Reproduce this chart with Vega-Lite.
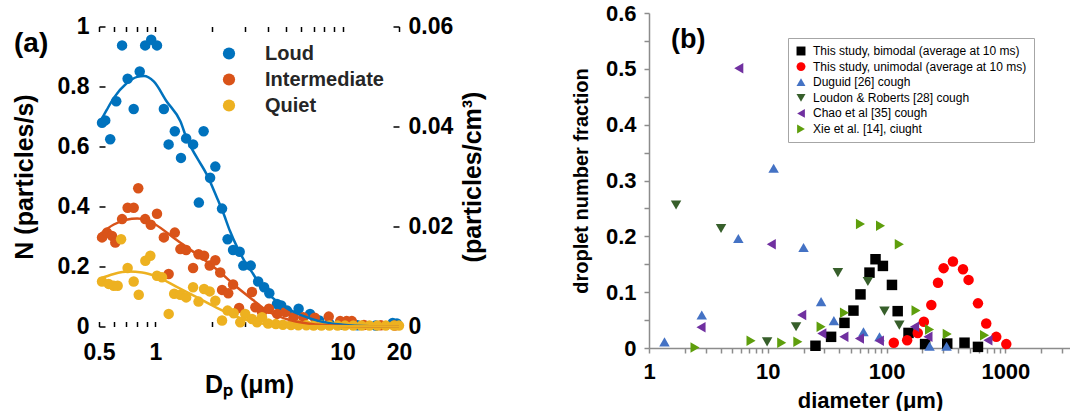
{
  "$schema": "https://vega.github.io/schema/vega-lite/v6.json",
  "background": "white",
  "padding": {"left": 12, "top": 2, "right": 0, "bottom": 0},
  "spacing": 85,
  "center": true,
  "datasets": {
    "a_points": [
      {"D":0.519,"N":0.679,"level":"Loud"},{"D":0.540,"N":0.687,"level":"Loud"},{"D":0.574,"N":0.624,"level":"Loud"},{"D":0.618,"N":0.751,"level":"Loud"},{"D":0.664,"N":0.937,"level":"Loud"},{"D":0.711,"N":0.826,"level":"Loud"},{"D":0.766,"N":0.725,"level":"Loud"},{"D":0.825,"N":0.850,"level":"Loud"},{"D":0.882,"N":0.937,"level":"Loud"},{"D":0.95,"N":0.956,"level":"Loud"},{"D":1.02,"N":0.937,"level":"Loud"},{"D":1.11,"N":0.725,"level":"Loud"},{"D":1.177,"N":0.607,"level":"Loud"},{"D":1.27,"N":0.651,"level":"Loud"},{"D":1.37,"N":0.562,"level":"Loud"},{"D":1.46,"N":0.627,"level":"Loud"},{"D":1.59,"N":0.607,"level":"Loud"},{"D":1.707,"N":0.413,"level":"Loud"},{"D":1.81,"N":0.651,"level":"Loud"},{"D":1.96,"N":0.496,"level":"Loud"},{"D":2.09,"N":0.533,"level":"Loud"},{"D":2.27,"N":0.393,"level":"Loud"},{"D":2.43,"N":0.291,"level":"Loud"},{"D":2.60,"N":0.255,"level":"Loud"},{"D":2.82,"N":0.249,"level":"Loud"},{"D":2.95,"N":0.203,"level":"Loud"},{"D":3.23,"N":0.203,"level":"Loud"},{"D":3.54,"N":0.150,"level":"Loud"},{"D":3.81,"N":0.131,"level":"Loud"},{"D":4.06,"N":0.111,"level":"Loud"},{"D":4.46,"N":0.075,"level":"Loud"},{"D":4.70,"N":0.070,"level":"Loud"},{"D":5.05,"N":0.053,"level":"Loud"},{"D":5.82,"N":0.059,"level":"Loud"},{"D":6.7,"N":0.042,"level":"Loud"},{"D":7.5,"N":0.02,"level":"Loud"},{"D":8.5,"N":0.01,"level":"Loud"},{"D":10,"N":0.006,"level":"Loud"},{"D":12,"N":0.004,"level":"Loud"},{"D":15,"N":0.003,"level":"Loud"},{"D":18.5,"N":0.012,"level":"Loud"},{"D":19.5,"N":0.01,"level":"Loud"},
      {"D":0.519,"N":0.297,"level":"Intermediate"},{"D":0.552,"N":0.313,"level":"Intermediate"},{"D":0.587,"N":0.302,"level":"Intermediate"},{"D":0.611,"N":0.28,"level":"Intermediate"},{"D":0.664,"N":0.358,"level":"Intermediate"},{"D":0.711,"N":0.396,"level":"Intermediate"},{"D":0.766,"N":0.396,"level":"Intermediate"},{"D":0.81,"N":0.461,"level":"Intermediate"},{"D":0.882,"N":0.358,"level":"Intermediate"},{"D":0.945,"N":0.339,"level":"Intermediate"},{"D":1.02,"N":0.376,"level":"Intermediate"},{"D":1.11,"N":0.297,"level":"Intermediate"},{"D":1.177,"N":0.175,"level":"Intermediate"},{"D":1.27,"N":0.313,"level":"Intermediate"},{"D":1.36,"N":0.258,"level":"Intermediate"},{"D":1.46,"N":0.255,"level":"Intermediate"},{"D":1.59,"N":0.195,"level":"Intermediate"},{"D":1.70,"N":0.241,"level":"Intermediate"},{"D":1.82,"N":0.236,"level":"Intermediate"},{"D":1.95,"N":0.203,"level":"Intermediate"},{"D":2.09,"N":0.221,"level":"Intermediate"},{"D":2.22,"N":0.18,"level":"Intermediate"},{"D":2.27,"N":0.122,"level":"Intermediate"},{"D":2.45,"N":0.111,"level":"Intermediate"},{"D":2.60,"N":0.140,"level":"Intermediate"},{"D":2.8,"N":0.062,"level":"Intermediate"},{"D":3.28,"N":0.115,"level":"Intermediate"},{"D":3.42,"N":0.064,"level":"Intermediate"},{"D":3.71,"N":0.048,"level":"Intermediate"},{"D":4.04,"N":0.059,"level":"Intermediate"},{"D":4.47,"N":0.042,"level":"Intermediate"},{"D":4.94,"N":0.048,"level":"Intermediate"},{"D":5.47,"N":0.031,"level":"Intermediate"},{"D":6.17,"N":0.031,"level":"Intermediate"},{"D":7.1,"N":0.029,"level":"Intermediate"},{"D":8.43,"N":0.033,"level":"Intermediate"},{"D":9.7,"N":0.018,"level":"Intermediate"},{"D":10.5,"N":0.018,"level":"Intermediate"},{"D":11.2,"N":0.018,"level":"Intermediate"},{"D":13,"N":0.005,"level":"Intermediate"},{"D":16,"N":0.004,"level":"Intermediate"},{"D":19,"N":0.003,"level":"Intermediate"},
      {"D":0.519,"N":0.150,"level":"Quiet"},{"D":0.563,"N":0.142,"level":"Quiet"},{"D":0.599,"N":0.136,"level":"Quiet"},{"D":0.629,"N":0.136,"level":"Quiet"},{"D":0.656,"N":0.291,"level":"Quiet"},{"D":0.711,"N":0.195,"level":"Quiet"},{"D":0.766,"N":0.150,"level":"Quiet"},{"D":0.815,"N":0.106,"level":"Quiet"},{"D":0.884,"N":0.219,"level":"Quiet"},{"D":0.94,"N":0.236,"level":"Quiet"},{"D":1.02,"N":0.169,"level":"Quiet"},{"D":1.085,"N":0.164,"level":"Quiet"},{"D":1.178,"N":0.042,"level":"Quiet"},{"D":1.26,"N":0.109,"level":"Quiet"},{"D":1.36,"N":0.106,"level":"Quiet"},{"D":1.46,"N":0.097,"level":"Quiet"},{"D":1.59,"N":0.131,"level":"Quiet"},{"D":1.70,"N":0.083,"level":"Quiet"},{"D":1.82,"N":0.125,"level":"Quiet"},{"D":1.95,"N":0.117,"level":"Quiet"},{"D":2.09,"N":0.086,"level":"Quiet"},{"D":2.27,"N":0.02,"level":"Quiet"},{"D":2.43,"N":0.053,"level":"Quiet"},{"D":2.62,"N":0.044,"level":"Quiet"},{"D":2.84,"N":0.014,"level":"Quiet"},{"D":3.02,"N":0.042,"level":"Quiet"},{"D":3.28,"N":0.025,"level":"Quiet"},{"D":3.49,"N":0.014,"level":"Quiet"},{"D":3.71,"N":0.031,"level":"Quiet"},{"D":4.0,"N":0.01,"level":"Quiet"},{"D":4.4,"N":0.008,"level":"Quiet"},{"D":4.8,"N":0.006,"level":"Quiet"},{"D":5.3,"N":0.005,"level":"Quiet"},{"D":5.8,"N":0.004,"level":"Quiet"},{"D":6.4,"N":0.004,"level":"Quiet"},{"D":7.0,"N":0.003,"level":"Quiet"},{"D":7.7,"N":0.003,"level":"Quiet"},{"D":8.5,"N":0.003,"level":"Quiet"},{"D":9.4,"N":0.003,"level":"Quiet"},{"D":10.3,"N":0.003,"level":"Quiet"},{"D":11.4,"N":0.003,"level":"Quiet"},{"D":12.6,"N":0.003,"level":"Quiet"},{"D":13.9,"N":0.003,"level":"Quiet"},{"D":15.3,"N":0.003,"level":"Quiet"},{"D":17,"N":0.003,"level":"Quiet"},{"D":18.8,"N":0.003,"level":"Quiet"},{"D":20,"N":0.003,"level":"Quiet"}
    ],
    "a_curves": [
      {"D":0.5,"N":0.675,"level":"Loud"},{"D":0.55,"N":0.722,"level":"Loud"},{"D":0.6,"N":0.762,"level":"Loud"},{"D":0.7,"N":0.81,"level":"Loud"},{"D":0.8,"N":0.832,"level":"Loud"},{"D":0.87,"N":0.835,"level":"Loud"},{"D":0.98,"N":0.817,"level":"Loud"},{"D":1.15,"N":0.75,"level":"Loud"},{"D":1.36,"N":0.684,"level":"Loud"},{"D":1.475,"N":0.624,"level":"Loud"},{"D":1.67,"N":0.562,"level":"Loud"},{"D":1.88,"N":0.507,"level":"Loud"},{"D":2.13,"N":0.43,"level":"Loud"},{"D":2.32,"N":0.374,"level":"Loud"},{"D":2.5,"N":0.319,"level":"Loud"},{"D":2.74,"N":0.263,"level":"Loud"},{"D":3.02,"N":0.214,"level":"Loud"},{"D":3.33,"N":0.175,"level":"Loud"},{"D":3.6,"N":0.142,"level":"Loud"},{"D":4.2,"N":0.097,"level":"Loud"},{"D":5.0,"N":0.062,"level":"Loud"},{"D":6.0,"N":0.038,"level":"Loud"},{"D":7.5,"N":0.018,"level":"Loud"},{"D":10,"N":0.006,"level":"Loud"},{"D":14,"N":0.001,"level":"Loud"},{"D":20,"N":0.0,"level":"Loud"},
      {"D":0.5,"N":0.305,"level":"Intermediate"},{"D":0.6,"N":0.34,"level":"Intermediate"},{"D":0.7,"N":0.356,"level":"Intermediate"},{"D":0.8,"N":0.36,"level":"Intermediate"},{"D":0.9,"N":0.355,"level":"Intermediate"},{"D":1.0,"N":0.34,"level":"Intermediate"},{"D":1.3,"N":0.288,"level":"Intermediate"},{"D":1.67,"N":0.24,"level":"Intermediate"},{"D":2.13,"N":0.19,"level":"Intermediate"},{"D":2.74,"N":0.13,"level":"Intermediate"},{"D":3.33,"N":0.088,"level":"Intermediate"},{"D":4.0,"N":0.05,"level":"Intermediate"},{"D":5.0,"N":0.025,"level":"Intermediate"},{"D":6.5,"N":0.01,"level":"Intermediate"},{"D":10,"N":0.002,"level":"Intermediate"},{"D":20,"N":0.0,"level":"Intermediate"},
      {"D":0.5,"N":0.158,"level":"Quiet"},{"D":0.6,"N":0.175,"level":"Quiet"},{"D":0.72,"N":0.183,"level":"Quiet"},{"D":0.85,"N":0.18,"level":"Quiet"},{"D":1.0,"N":0.168,"level":"Quiet"},{"D":1.3,"N":0.132,"level":"Quiet"},{"D":1.67,"N":0.097,"level":"Quiet"},{"D":2.13,"N":0.062,"level":"Quiet"},{"D":2.74,"N":0.032,"level":"Quiet"},{"D":3.3,"N":0.016,"level":"Quiet"},{"D":4.0,"N":0.007,"level":"Quiet"},{"D":5.0,"N":0.002,"level":"Quiet"},{"D":20,"N":0.0,"level":"Quiet"}
    ],
    "b_points": [
      {"diameter":25.2,"fraction":0.004,"series":"This study, bimodal (average at 10 ms)"},{"diameter":34.1,"fraction":0.020,"series":"This study, bimodal (average at 10 ms)"},{"diameter":44.2,"fraction":0.045,"series":"This study, bimodal (average at 10 ms)"},{"diameter":52.6,"fraction":0.067,"series":"This study, bimodal (average at 10 ms)"},{"diameter":60.3,"fraction":0.096,"series":"This study, bimodal (average at 10 ms)"},{"diameter":71.8,"fraction":0.135,"series":"This study, bimodal (average at 10 ms)"},{"diameter":80.7,"fraction":0.159,"series":"This study, bimodal (average at 10 ms)"},{"diameter":93.1,"fraction":0.147,"series":"This study, bimodal (average at 10 ms)"},{"diameter":111,"fraction":0.113,"series":"This study, bimodal (average at 10 ms)"},{"diameter":124,"fraction":0.066,"series":"This study, bimodal (average at 10 ms)"},{"diameter":153,"fraction":0.027,"series":"This study, bimodal (average at 10 ms)"},{"diameter":211,"fraction":0.007,"series":"This study, bimodal (average at 10 ms)"},{"diameter":324,"fraction":0.008,"series":"This study, bimodal (average at 10 ms)"},{"diameter":453,"fraction":0.0095,"series":"This study, bimodal (average at 10 ms)"},{"diameter":588,"fraction":0.002,"series":"This study, bimodal (average at 10 ms)"},
      {"diameter":115,"fraction":0.0095,"series":"This study, unimodal (average at 10 ms)"},{"diameter":149,"fraction":0.014,"series":"This study, unimodal (average at 10 ms)"},{"diameter":183,"fraction":0.027,"series":"This study, unimodal (average at 10 ms)"},{"diameter":206,"fraction":0.047,"series":"This study, unimodal (average at 10 ms)"},{"diameter":238,"fraction":0.077,"series":"This study, unimodal (average at 10 ms)"},{"diameter":271,"fraction":0.117,"series":"This study, unimodal (average at 10 ms)"},{"diameter":302,"fraction":0.143,"series":"This study, unimodal (average at 10 ms)"},{"diameter":362,"fraction":0.155,"series":"This study, unimodal (average at 10 ms)"},{"diameter":440,"fraction":0.141,"series":"This study, unimodal (average at 10 ms)"},{"diameter":490,"fraction":0.122,"series":"This study, unimodal (average at 10 ms)"},{"diameter":588,"fraction":0.080,"series":"This study, unimodal (average at 10 ms)"},{"diameter":690,"fraction":0.044,"series":"This study, unimodal (average at 10 ms)"},{"diameter":838,"fraction":0.020,"series":"This study, unimodal (average at 10 ms)"},{"diameter":1018,"fraction":0.007,"series":"This study, unimodal (average at 10 ms)"},
      {"diameter":1.35,"fraction":0.011,"series":"Duguid [26] cough"},{"diameter":2.78,"fraction":0.059,"series":"Duguid [26] cough"},{"diameter":5.65,"fraction":0.196,"series":"Duguid [26] cough"},{"diameter":11.2,"fraction":0.322,"series":"Duguid [26] cough"},{"diameter":20.0,"fraction":0.180,"series":"Duguid [26] cough"},{"diameter":28.1,"fraction":0.083,"series":"Duguid [26] cough"},{"diameter":36,"fraction":0.049,"series":"Duguid [26] cough"},{"diameter":63.9,"fraction":0.029,"series":"Duguid [26] cough"},{"diameter":87.2,"fraction":0.020,"series":"Duguid [26] cough"},{"diameter":230,"fraction":0.003,"series":"Duguid [26] cough"},{"diameter":320,"fraction":0.003,"series":"Duguid [26] cough"},
      {"diameter":1.69,"fraction":0.256,"series":"Loudon & Roberts [28] cough"},{"diameter":4.04,"fraction":0.214,"series":"Loudon & Roberts [28] cough"},{"diameter":9.87,"fraction":0.011,"series":"Loudon & Roberts [28] cough"},{"diameter":17.3,"fraction":0.038,"series":"Loudon & Roberts [28] cough"},{"diameter":38.9,"fraction":0.135,"series":"Loudon & Roberts [28] cough"},{"diameter":69.6,"fraction":0.119,"series":"Loudon & Roberts [28] cough"},{"diameter":96,"fraction":0.066,"series":"Loudon & Roberts [28] cough"},{"diameter":128,"fraction":0.041,"series":"Loudon & Roberts [28] cough"},
      {"diameter":2.74,"fraction":0.037,"series":"Chao et al [35] cough"},{"diameter":5.7,"fraction":0.501,"series":"Chao et al [35] cough"},{"diameter":10.7,"fraction":0.186,"series":"Chao et al [35] cough"},{"diameter":19.3,"fraction":0.059,"series":"Chao et al [35] cough"},{"diameter":28.5,"fraction":0.026,"series":"Chao et al [35] cough"},{"diameter":43.7,"fraction":0.020,"series":"Chao et al [35] cough"},{"diameter":59.1,"fraction":0.017,"series":"Chao et al [35] cough"},{"diameter":87,"fraction":0.013,"series":"Chao et al [35] cough"},{"diameter":172,"fraction":0.038,"series":"Chao et al [35] cough"},{"diameter":223,"fraction":0.020,"series":"Chao et al [35] cough"},{"diameter":713,"fraction":0.014,"series":"Chao et al [35] cough"},
      {"diameter":2.44,"fraction":0.001,"series":"Xie et al. [14], ciught"},{"diameter":7.23,"fraction":0.013,"series":"Xie et al. [14], ciught"},{"diameter":13.1,"fraction":0.0095,"series":"Xie et al. [14], ciught"},{"diameter":17.9,"fraction":0.011,"series":"Xie et al. [14], ciught"},{"diameter":28.1,"fraction":0.038,"series":"Xie et al. [14], ciught"},{"diameter":44.2,"fraction":0.063,"series":"Xie et al. [14], ciught"},{"diameter":60.3,"fraction":0.222,"series":"Xie et al. [14], ciught"},{"diameter":88.9,"fraction":0.219,"series":"Xie et al. [14], ciught"},{"diameter":128,"fraction":0.186,"series":"Xie et al. [14], ciught"},{"diameter":177,"fraction":0.067,"series":"Xie et al. [14], ciught"},{"diameter":230,"fraction":0.033,"series":"Xie et al. [14], ciught"},{"diameter":324,"fraction":0.025,"series":"Xie et al. [14], ciught"},{"diameter":668,"fraction":0.023,"series":"Xie et al. [14], ciught"}
    ]
  },
  "hconcat": [
    {
      "width": 300,
      "height": 300,
      "title": {"text": "(a)", "orient": "top", "anchor": "start", "frame": "group", "font": "Liberation Sans", "fontSize": 28, "fontWeight": "bold", "color": "black", "baseline": "top", "offset": 0, "dx": -85, "dy": 42},
      "layer": [
        {
          "data": {"name": "a_points"},
          "mark": {"type": "point", "filled": true, "size": 110, "opacity": 1},
          "encoding": {
            "x": {"field": "D", "type": "quantitative",
              "scale": {"type": "log", "domain": [0.5, 20], "nice": false},
              "axis": {"orient": "bottom", "title": "Dₚ (μm)", "values": [0.5,0.6,0.7,0.8,0.9,1,2,3,4,5,6,7,8,9,10,20],
                "labelExpr": "indexof([0.5,1,10,20], datum.value) >= 0 ? format(datum.value, '~g') : ''",
                "labelFont": "Liberation Sans", "labelFontSize": 23, "labelFontWeight": "bold", "labelColor": "black",
                "labelFlush": false, "labelOverlap": false, "labelPadding": 20,
                "tickSize": -5, "tickColor": "black", "tickWidth": 1.5,
                "domain": false, "grid": false,
                "titleFont": "Liberation Sans", "titleFontSize": 25, "titleFontWeight": "bold", "titleColor": "black", "titlePadding": 8}},
            "y": {"field": "N", "type": "quantitative",
              "scale": {"domain": [0, 1], "nice": false},
              "axis": {"orient": "left", "title": "N (particles/s)", "values": [0,0.2,0.4,0.6,0.8,1], "format": "~g",
                "labelFont": "Liberation Sans", "labelFontSize": 23, "labelFontWeight": "bold", "labelColor": "black",
                "labelFlush": false, "labelOverlap": false, "labelPadding": 16,
                "tickSize": -6, "tickColor": "black", "tickWidth": 1.5,
                "domain": false, "grid": false,
                "titleFont": "Liberation Sans", "titleFontSize": 25, "titleFontWeight": "bold", "titleColor": "black", "titlePadding": 20}},
            "color": {"field": "level", "type": "nominal",
              "scale": {"domain": ["Loud", "Intermediate", "Quiet"], "range": ["#0072BD", "#D95319", "#EDB120"]},
              "legend": {"orient": "none", "legendX": 120, "legendY": 17, "title": null,
                "labelFont": "Liberation Sans", "labelFontSize": 20, "labelFontWeight": "bold", "labelColor": "#262626",
                "symbolType": "circle", "symbolSize": 150, "symbolStrokeWidth": 0, "labelOffset": 26, "rowPadding": 6}}
          }
        },
        {
          "data": {"name": "a_curves"},
          "mark": {"type": "line", "strokeWidth": 2.5, "interpolate": "monotone"},
          "encoding": {
            "x": {"field": "D", "type": "quantitative", "axis": null},
            "y": {"field": "N", "type": "quantitative", "axis": null},
            "stroke": {"field": "level", "type": "nominal",
              "scale": {"domain": ["Loud", "Intermediate", "Quiet"], "range": ["#0072BD", "#D95319", "#EDB120"]},
              "legend": null}
          }
        },
        {
          "mark": {"type": "rule", "color": "black", "strokeWidth": 2},
          "encoding": {
            "x": {"datum": 0.5, "type": "quantitative", "axis": null},
            "y": {"datum": 0, "type": "quantitative", "axis": null},
            "y2": {"datum": 1}
          }
        },
        {
          "mark": {"type": "rule", "color": "black", "strokeWidth": 2},
          "encoding": {
            "x": {"datum": 0.5, "type": "quantitative", "axis": null},
            "x2": {"datum": 20},
            "y": {"datum": 0, "type": "quantitative", "axis": null}
          }
        },
        {
          "mark": {"type": "rule", "color": "black", "strokeWidth": 2},
          "encoding": {
            "x": {"datum": 0.5, "type": "quantitative",
              "axis": {"orient": "top", "title": null, "labels": false, "values": [0.5,0.6,0.7,0.8,0.9,1,2,3,4,5,6,7,8,9,10,20],
                "tickSize": -5, "tickColor": "black", "tickWidth": 1.5, "domain": false, "grid": false}},
            "x2": {"datum": 20},
            "y": {"datum": 1, "type": "quantitative", "axis": null}
          }
        },
        {
          "mark": {"type": "rule", "color": "black", "strokeWidth": 2},
          "encoding": {
            "x": {"datum": 20, "type": "quantitative", "axis": null},
            "y": {"datum": 0, "type": "quantitative",
              "axis": {"orient": "right", "title": "(particles/cm³)", "values": [0, 0.3333333333333333, 0.6666666666666666, 1],
                "labelExpr": "format(datum.value * 0.06, '.2~f')",
                "labelFont": "Liberation Sans", "labelFontSize": 23, "labelFontWeight": "bold", "labelColor": "black",
                "labelFlush": false, "labelOverlap": false, "labelPadding": 15,
                "tickSize": -6, "tickColor": "black", "tickWidth": 1.5,
                "domain": false, "grid": false,
                "titleFont": "Liberation Sans", "titleFontSize": 25, "titleFontWeight": "bold", "titleColor": "black",
                "titleAngle": 270, "titleBaseline": "top", "titlePadding": 8}},
            "y2": {"datum": 1}
          }
        }
      ]
    },
    {
      "width": 421,
      "height": 335,
      "title": {"text": "(b)", "orient": "top", "anchor": "start", "frame": "group", "font": "Liberation Sans", "fontSize": 27, "fontWeight": "bold", "color": "black", "baseline": "top", "offset": 0, "dx": 22, "dy": 52},
      "data": {"name": "b_points"},
      "mark": {"type": "point", "filled": true, "size": 110, "opacity": 1},
      "encoding": {
        "x": {"field": "diameter", "type": "quantitative",
          "scale": {"type": "log", "domain": [1, 3500], "nice": false},
          "axis": {"title": "diameter (μm)", "values": [1,2,3,4,5,6,7,8,9,10,20,30,40,50,60,70,80,90,100,200,300,400,500,600,700,800,900,1000,2000,3000],
            "labelExpr": "indexof([1,10,100,1000], datum.value) >= 0 ? format(datum.value, '~g') : ''",
            "labelFont": "Liberation Sans", "labelFontSize": 22, "labelFontWeight": "bold", "labelColor": "black",
            "labelFlush": false, "labelOverlap": false, "labelPadding": 8,
            "tickSize": 5, "tickColor": "#8c8c8c", "tickWidth": 1.5,
            "domainColor": "#8c8c8c", "domainWidth": 1.5, "grid": false,
            "titleFont": "Liberation Sans", "titleFontSize": 22, "titleFontWeight": "bold", "titleColor": "black", "titlePadding": 8, "titleX": 221}},
        "y": {"field": "fraction", "type": "quantitative",
          "scale": {"domain": [0, 0.6], "nice": false},
          "axis": {"title": "droplet number fraction", "values": [0,0.05,0.1,0.15,0.2,0.25,0.3,0.35,0.4,0.45,0.5,0.55,0.6],
            "labelExpr": "abs(datum.value*10 - round(datum.value*10)) < 0.001 ? format(datum.value, '~g') : ''",
            "labelFont": "Liberation Sans", "labelFontSize": 22, "labelFontWeight": "bold", "labelColor": "black",
            "labelFlush": false, "labelOverlap": false, "labelPadding": 8,
            "tickSize": 5, "tickColor": "#8c8c8c", "tickWidth": 1.5,
            "domainColor": "#8c8c8c", "domainWidth": 1.5, "grid": false,
            "titleFont": "Liberation Sans", "titleFontSize": 20, "titleFontWeight": "bold", "titleColor": "black", "titlePadding": 14}},
        "color": {"field": "series", "type": "nominal",
          "scale": {"domain": ["This study, bimodal (average at 10 ms)", "This study, unimodal (average at 10 ms)", "Duguid [26] cough", "Loudon & Roberts [28] cough", "Chao et al [35] cough", "Xie et al. [14], ciught"],
            "range": ["#000000", "#FF0000", "#4472C4", "#375F2B", "#7030A0", "#5E9E0C"]},
          "legend": {"orient": "none", "legendX": 139, "legendY": 25, "title": null,
            "labelFont": "Liberation Sans", "labelFontSize": 12, "labelColor": "black", "labelLimit": 400,
            "symbolSize": 80, "symbolStrokeWidth": 0, "labelOffset": 6, "rowPadding": 3.6,
            "padding": 7, "strokeColor": "#a6a6a6", "fillColor": "white"}},
        "shape": {"field": "series", "type": "nominal",
          "scale": {"domain": ["This study, bimodal (average at 10 ms)", "This study, unimodal (average at 10 ms)", "Duguid [26] cough", "Loudon & Roberts [28] cough", "Chao et al [35] cough", "Xie et al. [14], ciught"],
            "range": ["square", "circle", "triangle-up", "triangle-down", "triangle-left", "triangle-right"]},
          "legend": {"orient": "none", "legendX": 139, "legendY": 25, "title": null,
            "labelFont": "Liberation Sans", "labelFontSize": 12, "labelColor": "black", "labelLimit": 400,
            "symbolSize": 80, "symbolStrokeWidth": 0, "labelOffset": 6, "rowPadding": 3.6,
            "padding": 7, "strokeColor": "#a6a6a6", "fillColor": "white"}}
      }
    }
  ],
  "resolve": {
    "scale": {"x": "independent", "y": "independent", "color": "independent", "shape": "independent", "stroke": "independent"},
    "legend": {"color": "independent", "shape": "independent", "stroke": "independent"}
  },
  "config": {"view": {"stroke": null}, "font": "Liberation Sans"}
}
